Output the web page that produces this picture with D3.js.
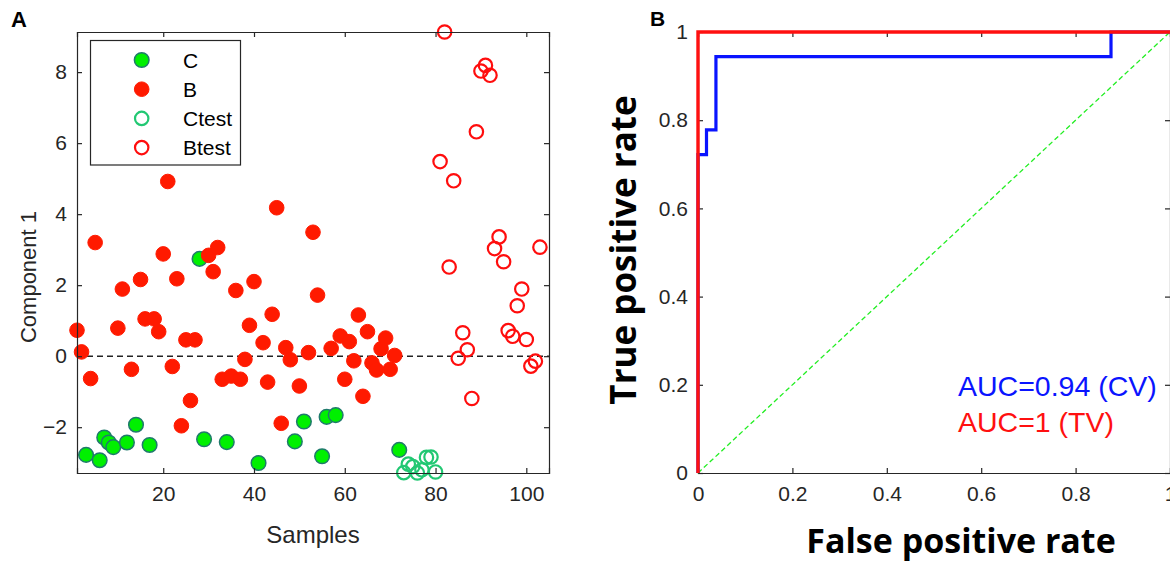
<!DOCTYPE html>
<html>
<head>
<meta charset="utf-8">
<script src="https://cdn.jsdelivr.net/npm/d3@7"></script>
<style>
  body { margin: 0; background: #fff; }
  svg { display: block; }
  .tick text { font-family: "Liberation Sans", Arial, sans-serif; font-size: 21px; fill: #262626; }
</style>
</head>
<body>
<svg id="chart" width="1170" height="565"></svg>
<script>
// ---- panel A data (sample index, component 1 score)
var sampleC = [3, 6, 7, 8, 9, 12, 14, 17, 28, 29, 34, 41, 49, 51, 55, 56, 58, 72];
var compC = [-2.78, -2.93, -2.29, -2.43, -2.56, -2.43, -1.93, -2.50, 2.74, -2.34, -2.42, -3.01, -2.40, -1.84, -2.82, -1.71, -1.66, -2.64];

var sampleB = [1, 2, 4, 5, 10, 11, 13, 15, 16, 18, 19, 20, 21, 22, 23, 24, 25, 26, 27, 30, 31, 32, 33, 35, 36, 37, 38, 39, 40, 42,
  43, 44, 45, 46, 47, 48, 50, 52, 53, 54, 57, 59, 60, 61, 62, 63, 64, 65, 66, 67, 68, 69, 70, 71];
var compB = [0.73, 0.12, -0.63, 3.20, 0.79, 1.89, -0.37, 2.16, 1.05, 1.05, 0.69, 2.88, 4.92, -0.29, 2.18, -1.96, 0.46, -1.25, 0.46, 2.84,
  2.38, 3.06, -0.65, -0.56, 1.85, -0.65, -0.09, 0.87, 2.10, 0.38, -0.73, 1.18, 4.18, -1.89, 0.24, -0.10, -0.84, 0.10, 3.49, 1.72,
  0.22, 0.57, -0.65, 0.41, -0.13, 1.16, -1.13, 0.69, -0.19, -0.39, 0.21, 0.51, -0.37, 0.02];

var sampleCtest = [73, 74, 75, 76, 77, 78, 79, 80];
var compCtest = [-3.28, -3.04, -3.11, -3.29, -3.20, -2.85, -2.84, -3.26];

var sampleBtest = [81, 82, 83, 84, 85, 86, 87, 88, 89, 90, 91, 92, 93, 94, 95, 96, 97, 98, 99, 100, 101, 102, 103];
var compBtest = [5.48, 9.13, 2.51, 4.94, -0.06, 0.66, 0.18, -1.19, 6.32, 8.03, 8.19, 7.91, 3.03, 3.36, 2.66, 0.72, 0.56, 1.42, 1.89,
  0.47, -0.28, -0.14, 3.07];

var legendNames = ["C", "B", "Ctest", "Btest"];
var ticksA_x = [20, 40, 60, 80, 100];
var ticksA_y = [-2, 0, 2, 4, 6, 8];

// ---- panel B data (ROC curves)
var cvFpr = [0, 0, 0.018, 0.018, 0.038, 0.038, 0.875, 0.875, 1];
var cvTpr = [0, 0.722, 0.722, 0.778, 0.778, 0.944, 0.944, 1, 1];
var tvFpr = [0, 0, 1];
var tvTpr = [0, 1, 1];
var chanceFpr = [0, 1];
var chanceTpr = [0, 1];
var ticksB = [0, 0.2, 0.4, 0.6, 0.8, 1];
var aucLabels = ["AUC=0.94 (CV)", "AUC=1 (TV)"];

var axisColor = "#262626";
var font = '"Liberation Sans", Arial, sans-serif';
var svg = d3.select("#chart");

function zip(xs, ys) {
  return xs.map(function (x, i) { return { x: x, y: ys[i] }; });
}

// draws a boxed axes with inward ticks on all four sides
function drawBox(g, x, y, xt, yt, fmt) {
  var bottom = g.append("g").attr("transform", "translate(0," + y.range()[0] + ")")
    .call(d3.axisBottom(x).tickValues(xt).tickSize(-5).tickPadding(13).tickFormat(fmt));
  var top = g.append("g").attr("transform", "translate(0," + y.range()[1] + ")")
    .call(d3.axisTop(x).tickValues(xt).tickSize(-5).tickFormat(""));
  var left = g.append("g").attr("transform", "translate(" + x.range()[0] + ",0)")
    .call(d3.axisLeft(y).tickValues(yt).tickSize(-5).tickPadding(10).tickFormat(fmt));
  var right = g.append("g").attr("transform", "translate(" + x.range()[1] + ",0)")
    .call(d3.axisRight(y).tickValues(yt).tickSize(-5).tickFormat(""));
  [bottom, top, left, right].forEach(function (a) {
    a.select(".domain").attr("stroke", axisColor).attr("stroke-width", 1.2);
    a.selectAll(".tick line").attr("stroke", axisColor).attr("stroke-width", 1.2);
  });
  bottom.selectAll(".tick text").attr("dy", "0.71em");
}

// ================= PANEL A =================
var xA = d3.scaleLinear().domain([1, 105]).range([77, 549]);
var yA = d3.scaleLinear().domain([-3.29, 9.13]).range([473, 32]);
var gA = svg.append("g");

gA.append("line")
  .attr("x1", xA(1)).attr("x2", xA(105))
  .attr("y1", yA(0)).attr("y2", yA(0))
  .attr("stroke", "#222").attr("stroke-width", 1.6).attr("stroke-dasharray", "6,4");

var styles = {
  C: { fill: "#00f000", stroke: "#1f7a6c", sw: 1.5, r: 7.3 },
  B: { fill: "#ff1a00", stroke: "#ff1a00", sw: 1, r: 7.3 },
  Ctest: { fill: "none", stroke: "#22c873", sw: 2.2, r: 6.7 },
  Btest: { fill: "none", stroke: "#ff0d0d", sw: 2.2, r: 6.7 }
};

function scatter(name, xs, ys) {
  var s = styles[name];
  gA.append("g").selectAll("circle")
    .data(zip(xs, ys))
    .enter().append("circle")
    .attr("cx", function (d) { return xA(d.x); })
    .attr("cy", function (d) { return yA(d.y); })
    .attr("r", s.r)
    .attr("fill", s.fill)
    .attr("stroke", s.stroke)
    .attr("stroke-width", s.sw);
}

scatter("C", sampleC, compC);
scatter("B", sampleB, compB);
scatter("Ctest", sampleCtest, compCtest);
scatter("Btest", sampleBtest, compBtest);

drawBox(gA, xA, yA, ticksA_x, ticksA_y, d3.format("d"));

// legend
var leg = gA.append("g");
leg.append("rect").attr("x", 90.5).attr("y", 40.5).attr("width", 150).attr("height", 124.5)
  .attr("fill", "#fff").attr("stroke", axisColor).attr("stroke-width", 1.2);
legendNames.forEach(function (n, i) {
  var s = styles[n];
  var cy = 60 + i * 29.2;
  leg.append("circle").attr("cx", 141.7).attr("cy", cy).attr("r", s.r)
    .attr("fill", s.fill).attr("stroke", s.stroke).attr("stroke-width", s.sw);
  leg.append("text").attr("x", 183).attr("y", cy).attr("dy", "0.36em")
    .style("font-family", font).style("font-size", "21px").attr("fill", "#000").text(n);
});

gA.append("text").attr("x", 313).attr("y", 543)
  .attr("text-anchor", "middle").style("font-family", font).style("font-size", "24px")
  .attr("fill", axisColor).text("Samples");
gA.append("text").attr("transform", "translate(36,277) rotate(-90)")
  .attr("text-anchor", "middle").style("font-family", font).style("font-size", "22px")
  .attr("fill", axisColor).text("Component 1");

svg.append("text").attr("x", 11).attr("y", 27)
  .style("font-family", font).style("font-size", "22px").style("font-weight", "bold").text("A");

// ================= PANEL B =================
var xB = d3.scaleLinear().domain([0, 1]).range([698, 1170]);
var yB = d3.scaleLinear().domain([0, 1]).range([473, 32]);
var gB = svg.append("g");

drawBox(gB, xB, yB, ticksB, ticksB, function (d) { return d3.format("")(d); });

var line = d3.line()
  .x(function (d) { return xB(d.x); })
  .y(function (d) { return yB(d.y); });

gB.append("path").datum(zip(chanceFpr, chanceTpr)).attr("d", line)
  .attr("fill", "none").attr("stroke", "#22ee22").attr("stroke-width", 1.3).attr("stroke-dasharray", "5,3");
gB.append("path").datum(zip(cvFpr, cvTpr)).attr("d", line)
  .attr("fill", "none").attr("stroke", "#0a14ff").attr("stroke-width", 3.2);
gB.append("path").datum(zip(tvFpr, tvTpr)).attr("d", line)
  .attr("fill", "none").attr("stroke", "#ff1010").attr("stroke-width", 3.4);

gB.append("text").attr("x", 958).attr("y", 396)
  .style("font-family", font).style("font-size", "28.5px").attr("fill", "#0a14ff").text(aucLabels[0]);
gB.append("text").attr("x", 958).attr("y", 432)
  .style("font-family", font).style("font-size", "28.5px").attr("fill", "#ff1010").text(aucLabels[1]);

var boldFont = '"Open Sans", "DejaVu Sans", sans-serif';
gB.append("text").attr("x", 961).attr("y", 553)
  .attr("text-anchor", "middle").style("font-family", boldFont).style("font-size", "34px")
  .style("font-weight", "bold").attr("fill", "#000").text("False positive rate");
gB.append("text").attr("transform", "translate(636,250) rotate(-90)")
  .attr("text-anchor", "middle").style("font-family", boldFont).style("font-size", "35px")
  .style("font-weight", "bold").attr("fill", "#000").text("True positive rate");

svg.append("text").attr("x", 650).attr("y", 26)
  .style("font-family", font).style("font-size", "21px").style("font-weight", "bold").text("B");
</script>
</body>
</html>
